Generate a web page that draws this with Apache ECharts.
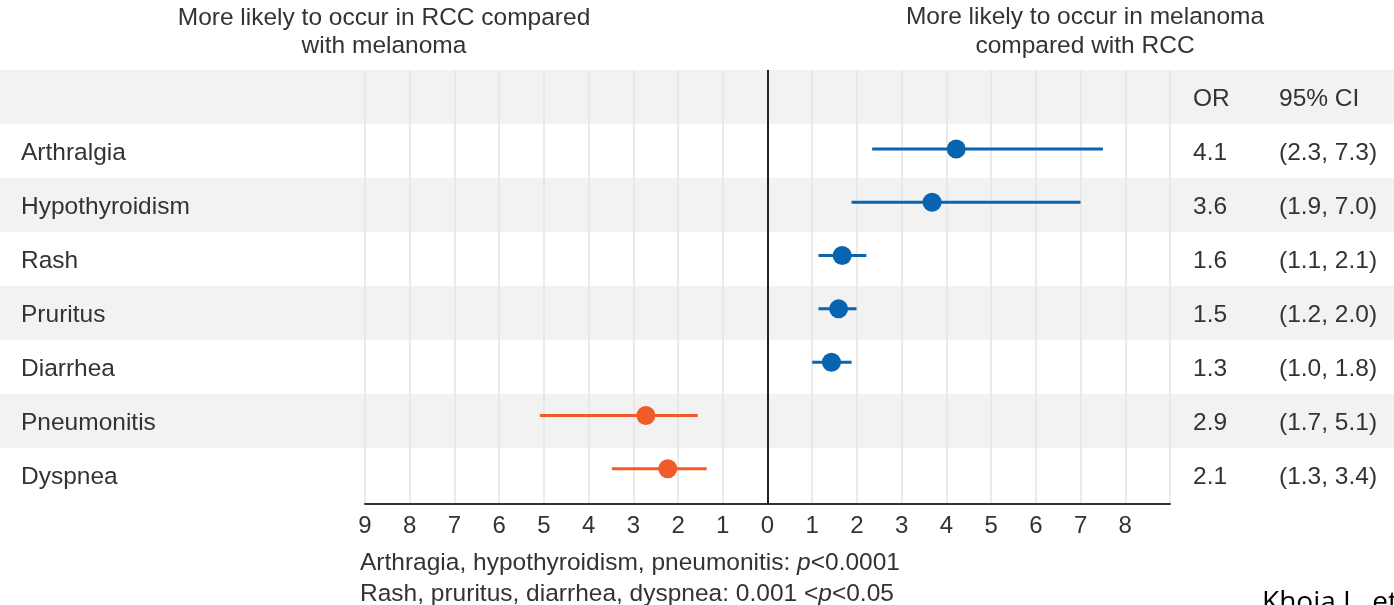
<!DOCTYPE html>
<html>
<head>
<meta charset="utf-8">
<script src="https://cdn.jsdelivr.net/npm/echarts@6/dist/echarts.min.js"></script>
<style>
html,body{margin:0;padding:0;background:#fff;}
#chart{width:1394px;height:605px;}
</style>
</head>
<body>
<div id="chart"></div>
<script>
// ---- data ----
const rowNames = ['Arthralgia', 'Hypothyroidism', 'Rash', 'Pruritus', 'Diarrhea', 'Pneumonitis', 'Dyspnea'];
const orLabels = ['4.1', '3.6', '1.6', '1.5', '1.3', '2.9', '2.1'];
const ciLabels = ['(2.3, 7.3)', '(1.9, 7.0)', '(1.1, 2.1)', '(1.2, 2.0)', '(1.0, 1.8)', '(1.7, 5.1)', '(1.3, 3.4)'];
// plotted positions (negative = toward RCC side)
const estimates = [4.22, 3.68, 1.67, 1.59, 1.43, -2.72, -2.23];
const lows = [2.34, 1.88, 1.14, 1.14, 1.00, -5.09, -3.48];
const highs = [7.50, 7.00, 2.21, 1.99, 1.88, -1.56, -1.36];
const groups = ['melanoma', 'melanoma', 'melanoma', 'melanoma', 'melanoma', 'RCC', 'RCC'];
const xTickLabels = ['9', '8', '7', '6', '5', '4', '3', '2', '1', '0', '1', '2', '3', '4', '5', '6', '7', '8', ''];
const headerLabels = { name: '', or: 'OR', ci: '95% CI' };
const titleLeft = 'More likely to occur in RCC compared\nwith melanoma';
const titleRight = 'More likely to occur in melanoma\ncompared with RCC';
const note1 = ['Arthragia, hypothyroidism, pneumonitis: ', 'p', '<0.0001'];
const note2 = ['Rash, pruritus, diarrhea, dyspnea: 0.001 <', 'p', '<0.05'];
const citation = 'Khoja L, et al.';

const FONT = '"Liberation Sans", Arial, Helvetica, sans-serif';
const FS = 24.5;
const TXT = '#333333';
const BLUE = '#0864b1';
const ORANGE = '#f15a29';

const chart = echarts.init(document.getElementById('chart'), null, { renderer: 'canvas' });

const seriesData = rowNames.map((n, i) => [i, lows[i], highs[i], estimates[i], groups[i] === 'RCC' ? 1 : 0]);

const tableNames = [headerLabels.name].concat(rowNames);
const tableOR = [headerLabels.or].concat(orLabels);
const tableCI = [headerLabels.ci].concat(ciLabels);
const tableRows = tableNames.map((n, i) => String(i));

const option = {
  backgroundColor: '#ffffff',
  animation: false,
  textStyle: { fontFamily: FONT },
  grid: [
    { left: 0, right: 0, top: 70, bottom: 103 },
    { left: 365, right: 224, top: 70, bottom: 101 }
  ],
  xAxis: [
    { gridIndex: 0, type: 'value', min: 0, max: 1, show: false },
    {
      gridIndex: 1, type: 'value', min: -9, max: 9, interval: 1,
      axisLine: { show: true, onZero: false, lineStyle: { color: '#333', width: 2 } },
      axisTick: { show: false },
      axisLabel: {
        margin: 10, fontSize: 24, color: TXT, fontFamily: FONT,
        formatter: v => xTickLabels[Math.round(v) + 9]
      },
      splitLine: { show: true, lineStyle: { color: '#e4e4e4', width: 1.5 } }
    }
  ],
  yAxis: [
    {
      gridIndex: 0, type: 'category', inverse: true,
      data: tableRows,
      axisLine: { show: false }, axisTick: { show: false },
      splitLine: { show: false },
      splitArea: { show: true, areaStyle: { color: ['#f2f2f2', '#ffffff'] } },
      axisLabel: {
        inside: true, margin: 21, fontSize: FS, color: TXT, fontFamily: FONT,
        formatter: function (v) {
          const i = Number(v);
          return '{n|' + tableNames[i] + '}{o|' + tableOR[i] + '}{c|' + tableCI[i] + '}';
        },
        rich: {
          n: { width: 1172, fontSize: FS, color: TXT, fontFamily: FONT, padding: [5, 0, 0, 0] },
          o: { width: 86, fontSize: FS, color: TXT, fontFamily: FONT, padding: [5, 0, 0, 0] },
          c: { fontSize: FS, color: TXT, fontFamily: FONT, padding: [5, 0, 0, 0] }
        }
      }
    },
    {
      gridIndex: 1, type: 'value', inverse: true, min: -1.48, max: 6.66, show: false,
      splitLine: { show: false }
    }
  ],
  series: [
    {
      type: 'custom',
      xAxisIndex: 1, yAxisIndex: 1,
      encode: { x: [1, 2, 3], y: 0 },
      data: seriesData,
      z: 5,
      renderItem: function (params, api) {
        const y = api.value(0);
        const lo = api.coord([api.value(1), y]);
        const hi = api.coord([api.value(2), y]);
        const c = api.coord([api.value(3), y]);
        const color = api.value(4) ? ORANGE : BLUE;
        return {
          type: 'group',
          children: [
            { type: 'line', shape: { x1: lo[0], y1: lo[1], x2: hi[0], y2: hi[1] }, style: { stroke: color, lineWidth: 3 } },
            { type: 'circle', shape: { cx: c[0], cy: c[1], r: 9.5 }, style: { fill: color } }
          ]
        };
      },
      markLine: {
        silent: true, symbol: 'none', label: { show: false },
        lineStyle: { color: '#222', width: 2, type: 'solid' },
        data: [{ xAxis: 0 }]
      }
    }
  ],
  graphic: [
    {
      type: 'text', x: 384, y: 4,
      style: { text: titleLeft, fontSize: FS, lineHeight: 28, fill: TXT, fontFamily: FONT, align: 'center', verticalAlign: 'top' }
    },
    {
      type: 'text', x: 1085, y: 3,
      style: { text: titleRight, fontSize: FS, lineHeight: 29, fill: TXT, fontFamily: FONT, align: 'center', verticalAlign: 'top' }
    },
    {
      type: 'text', x: 360, y: 548,
      style: {
        text: '{n|' + note1[0] + '}{i|' + note1[1] + '}{n|' + note1[2] + '}\n{n|' + note2[0] + '}{i|' + note2[1] + '}{n|' + note2[2] + '}',
        fontSize: FS, lineHeight: 31, fill: TXT, fontFamily: FONT, verticalAlign: 'top',
        rich: {
          n: { fontSize: FS, lineHeight: 31, fill: TXT, fontFamily: FONT },
          i: { fontSize: FS, lineHeight: 31, fill: TXT, fontFamily: FONT, fontStyle: 'italic' }
        }
      }
    },
    {
      type: 'text', x: 1262, y: 589,
      style: { text: citation, fontSize: 28, fill: '#000', fontFamily: '"Open Sans", "DejaVu Sans", sans-serif', verticalAlign: 'top' }
    }
  ]
};

chart.setOption(option);
</script>
</body>
</html>
